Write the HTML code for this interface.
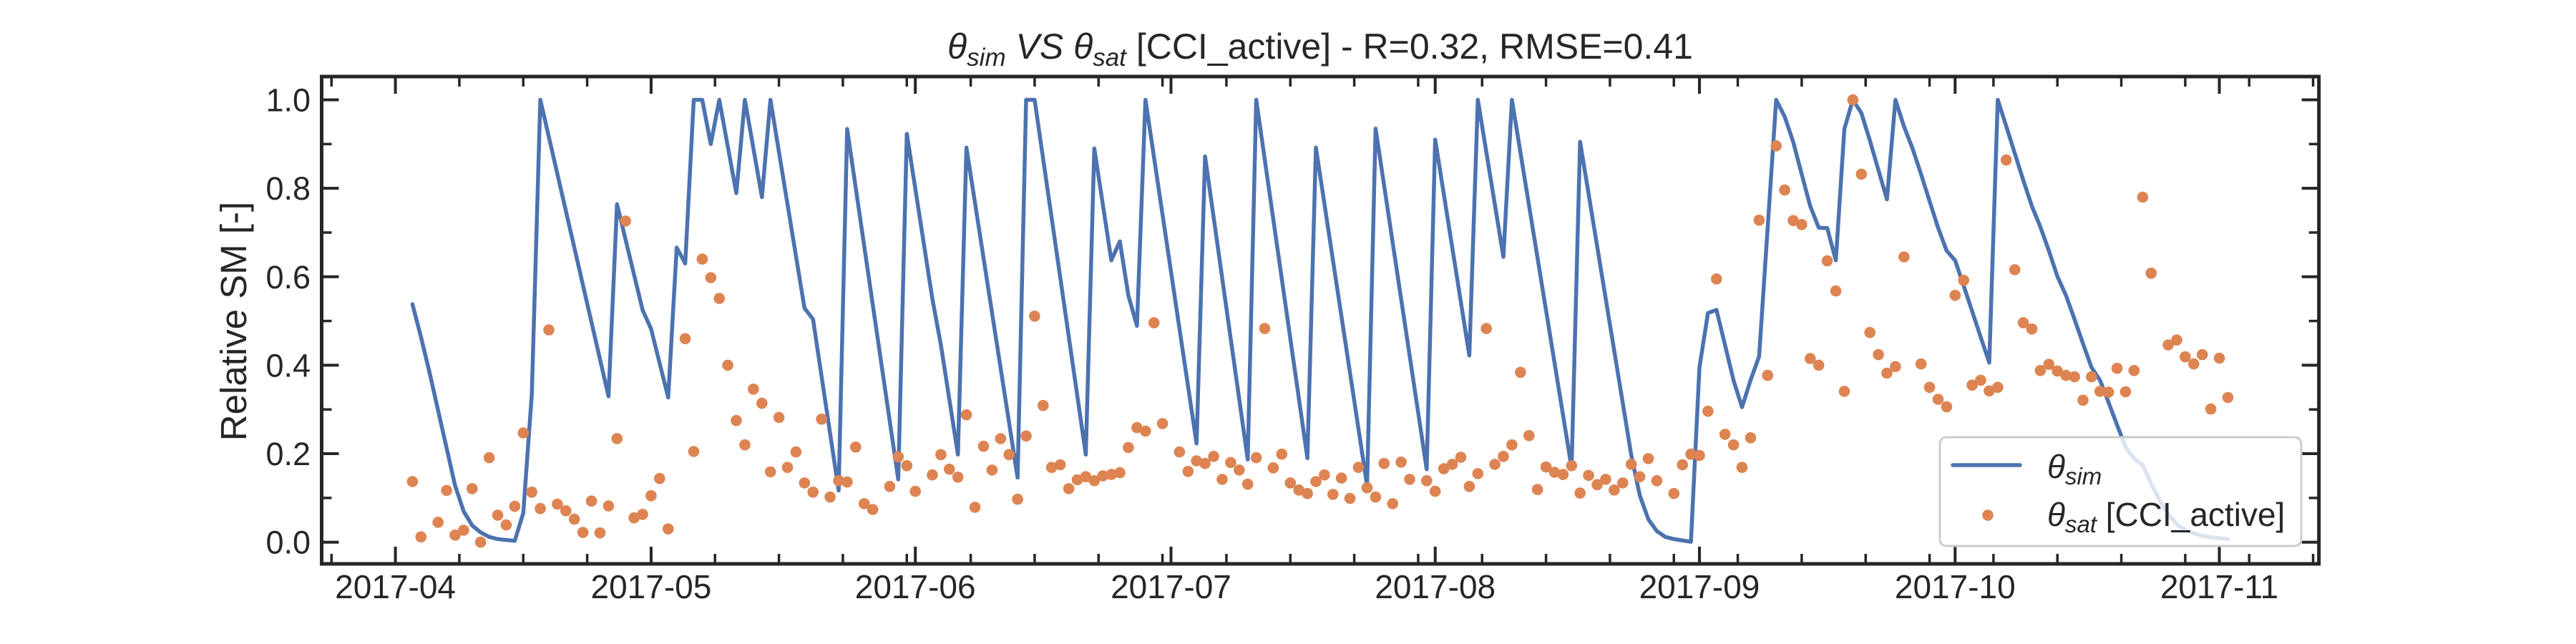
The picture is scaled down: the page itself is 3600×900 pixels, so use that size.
<!DOCTYPE html>
<html><head><meta charset="utf-8"><style>
html,body{margin:0;padding:0;background:#fff;}
svg{display:block;font-family:"Liberation Sans",sans-serif;}
</style></head><body>
<svg id="chart" width="3600" height="900" viewBox="0 0 3600 900" xmlns="http://www.w3.org/2000/svg">
<rect x="0" y="0" width="3600" height="900" fill="#fff"/>
<g id="plot"></g>
<text x="1845" y="82" text-anchor="middle" font-size="50" fill="#262626"><tspan font-style="italic">θ</tspan><tspan font-style="italic" font-size="35" dy="10">sim</tspan><tspan font-style="italic" dy="-10"> VS θ</tspan><tspan font-style="italic" font-size="35" dy="10">sat</tspan><tspan dy="-10"> [CCI_active] - R=0.32, RMSE=0.41</tspan></text>
<text transform="translate(344,449) rotate(-90)" text-anchor="middle" font-size="51" fill="#262626">Relative SM [-]</text>
</svg>
<script>
// Day offsets from 2017-04-01
const simDays = [2,3,4,7,8,9,10,11,12,14,15,16,17,25,26,29,30,32,33,34,35,36,37,38,40,41,43,44,48,49,52,53,59,60,63,64,66,67,73,74,75,81,82,84,85,86,87,88,94,95,100,101,107,108,114,115,121,122,126,127,130,131,138,139,145,146,147,148,149,150,152,153,154,155,156,157,158,159,160,162,163,164,165,166,167,168,169,170,171,172,173,175,176,177,178,179,180,181,182,183,184,185,186,187,188,189,190,191,192,193,194,195,196,197,198,199,200,201,202,203,204,205,206,207,208,209,210,211,212,213,214,215];
const simVals = [0.538,0.464,0.384,0.128,0.07,0.038,0.022,0.012,0.007,0.003,0.066,0.334,1.0,0.33,0.764,0.525,0.482,0.327,0.666,0.63,1.0,1.0,0.9,1.0,0.789,1.0,0.78,1.0,0.529,0.504,0.117,0.934,0.142,0.923,0.55,0.446,0.198,0.892,0.146,1.0,1.0,0.198,0.89,0.637,0.68,0.558,0.489,1.0,0.223,0.872,0.187,1.0,0.19,0.892,0.128,0.935,0.165,0.91,0.422,1.0,0.645,1.0,0.168,0.905,0.197,0.106,0.052,0.025,0.012,0.007,0.001,0.395,0.518,0.525,0.446,0.366,0.305,0.366,0.42,1.0,0.962,0.905,0.832,0.76,0.711,0.71,0.637,0.934,1.0,0.97,0.908,0.775,1.0,0.94,0.89,0.832,0.771,0.711,0.659,0.637,0.58,0.522,0.464,0.406,1.0,0.94,0.879,0.818,0.76,0.713,0.659,0.601,0.558,0.504,0.449,0.395,0.366,0.316,0.265,0.215,0.189,0.175,0.132,0.095,0.063,0.041,0.027,0.02,0.014,0.011,0.009,0.007];
const satDays = [2,3,5,6,7,8,9,10,11,12,13,14,15,16,17,18,19,20,21,22,23,24,25,26,27,28,29,30,31,32,34,35,36,37,38,39,40,41,42,43,44,45,46,47,48,49,50,51,52,53,54,55,56,58,59,60,61,63,64,65,66,67,68,69,70,71,72,73,74,75,76,77,78,79,80,81,82,83,84,85,86,87,88,89,90,92,93,94,95,96,97,98,99,100,101,102,103,104,105,106,107,108,109,110,111,112,113,114,115,116,117,118,119,121,122,123,124,125,126,127,128,129,130,131,132,133,134,135,136,137,138,139,140,141,142,143,144,145,146,147,148,150,151,152,153,154,155,156,157,158,159,160,161,162,163,164,165,166,167,168,169,170,171,172,173,174,175,176,177,179,180,181,182,183,184,185,186,187,188,189,190,191,192,193,194,195,196,197,198,199,200,201,202,203,204,205,206,208,209,210,211,212,213,214,215];
const satVals = [0.137,0.012,0.045,0.117,0.016,0.027,0.121,0.0,0.191,0.061,0.039,0.081,0.247,0.113,0.076,0.48,0.086,0.071,0.052,0.022,0.093,0.021,0.082,0.234,0.726,0.055,0.063,0.105,0.144,0.03,0.46,0.205,0.64,0.598,0.551,0.4,0.275,0.22,0.346,0.314,0.159,0.282,0.169,0.204,0.134,0.113,0.278,0.102,0.139,0.136,0.215,0.087,0.074,0.126,0.193,0.173,0.115,0.152,0.198,0.165,0.147,0.288,0.079,0.217,0.163,0.234,0.198,0.097,0.24,0.511,0.309,0.169,0.175,0.121,0.141,0.148,0.139,0.15,0.153,0.157,0.214,0.259,0.251,0.496,0.268,0.204,0.16,0.184,0.178,0.194,0.142,0.18,0.163,0.131,0.191,0.483,0.168,0.199,0.134,0.118,0.11,0.137,0.152,0.108,0.145,0.099,0.169,0.123,0.102,0.178,0.087,0.181,0.142,0.139,0.115,0.166,0.176,0.192,0.126,0.155,0.483,0.176,0.194,0.22,0.384,0.241,0.119,0.17,0.158,0.153,0.173,0.111,0.151,0.13,0.142,0.118,0.134,0.176,0.148,0.189,0.139,0.11,0.175,0.199,0.196,0.296,0.595,0.244,0.22,0.169,0.236,0.728,0.377,0.896,0.796,0.727,0.718,0.415,0.4,0.636,0.568,0.341,1.0,0.832,0.474,0.424,0.382,0.397,0.645,0.403,0.35,0.323,0.306,0.558,0.592,0.355,0.366,0.342,0.35,0.864,0.616,0.496,0.482,0.388,0.402,0.387,0.377,0.374,0.321,0.374,0.341,0.339,0.393,0.34,0.388,0.78,0.608,0.446,0.457,0.419,0.403,0.424,0.301,0.416,0.327];
const monthDays = [0,30,61,91,122,153,183,214];
const monthLabels = ["2017-04","2017-05","2017-06","2017-07","2017-08","2017-09","2017-10","2017-11"];
const yTickVals = [0,0.2,0.4,0.6,0.8,1.0];
const yTickLabels = ["0.0","0.2","0.4","0.6","0.8","1.0"];

const NS = "http://www.w3.org/2000/svg";
const L = 449.5, R = 3240.7, T = 107, B = 788;
function xs(d){ return 552.6 + d * 11.911; }
function ys(v){ return 757.7 - v * 618.2; }
const svg = document.getElementById('chart');
const plot = document.getElementById('plot');
function mk(tag, attrs, parent){
  const e = document.createElementNS(NS, tag);
  for (const k in attrs) e.setAttribute(k, attrs[k]);
  (parent || plot).appendChild(e);
  return e;
}
const clip = mk('clipPath', {id:'clipP'}, svg);
mk('rect', {x:L, y:T, width:R-L, height:B-T}, clip);
let d = '';
simDays.forEach((dd, i) => { d += (i ? 'L' : 'M') + xs(dd).toFixed(1) + ',' + ys(simVals[i]).toFixed(1); });
const line = mk('path', {d:d, fill:'none', stroke:'#4C72B0', 'stroke-width':'5.5', 'stroke-linejoin':'round', 'stroke-linecap':'round', 'clip-path':'url(#clipP)'});


satDays.forEach((dd, i) => {
  const c = mk('circle', {cx:xs(dd).toFixed(1), cy:ys(satVals[i]).toFixed(1), r:'7.8', fill:'#DD8452'});
  
  
});
const fr = mk('rect', {x:L, y:T, width:R-L, height:B-T, fill:'none', stroke:'#262626', 'stroke-width':'5'}, svg);


for (let k = -1; k <= 30; k++) {
  const x = xs(k * 7.5);
  if (x < L || x > R) continue;
  mk('line', {x1:x, x2:x, y1:B, y2:B-14, stroke:'#262626', 'stroke-width':'3.5'}, svg);
  mk('line', {x1:x, x2:x, y1:T, y2:T+14, stroke:'#262626', 'stroke-width':'3.5'}, svg);
}
monthDays.forEach((md, i) => {
  const x = xs(md);
  mk('line', {x1:x, x2:x, y1:B, y2:B-24, stroke:'#262626', 'stroke-width':'4'}, svg);
  mk('line', {x1:x, x2:x, y1:T, y2:T+24, stroke:'#262626', 'stroke-width':'4'}, svg);
  const t = mk('text', {x:x, y:836, 'text-anchor':'middle', 'font-size':'46', fill:'#262626'}, svg);
  t.textContent = monthLabels[i];
  
  
});
for (let k = 0; k <= 10; k++) {
  const y = ys(k / 10);
  mk('line', {x1:L, x2:L+14, y1:y, y2:y, stroke:'#262626', 'stroke-width':'3.5'}, svg);
  mk('line', {x1:R, x2:R-14, y1:y, y2:y, stroke:'#262626', 'stroke-width':'3.5'}, svg);
}
yTickVals.forEach((v, i) => {
  const y = ys(v);
  mk('line', {x1:L, x2:L+24, y1:y, y2:y, stroke:'#262626', 'stroke-width':'4'}, svg);
  mk('line', {x1:R, x2:R-24, y1:y, y2:y, stroke:'#262626', 'stroke-width':'4'}, svg);
  const t = mk('text', {x:434, y:y+16, 'text-anchor':'end', 'font-size':'45', fill:'#262626'}, svg);
  t.textContent = yTickLabels[i];
  
  
});
const lg = mk('g', {}, svg);


mk('rect', {x:2711, y:611, width:505, height:152, rx:9, fill:'rgba(255,255,255,0.8)', stroke:'#cccccc', 'stroke-width':'3'}, lg);
const ll = mk('line', {x1:2729, x2:2823, y1:650, y2:650, stroke:'#4C72B0', 'stroke-width':'5.5', 'stroke-linecap':'round'}, lg);


const t1 = mk('text', {x:2861, y:668, 'font-size':'46', fill:'#262626'}, lg);
t1.innerHTML = '<tspan font-style="italic">θ</tspan><tspan font-style="italic" font-size="33" dy="9">sim</tspan>';
const lc = mk('circle', {cx:2778, cy:720, r:7.8, fill:'#DD8452'}, lg);


const t2 = mk('text', {x:2861, y:735, 'font-size':'46', fill:'#262626'}, lg);
t2.innerHTML = '<tspan font-style="italic">θ</tspan><tspan font-style="italic" font-size="33" dy="9">sat</tspan><tspan dy="-9"> [CCI_active]</tspan>';
</script>
</body></html>
